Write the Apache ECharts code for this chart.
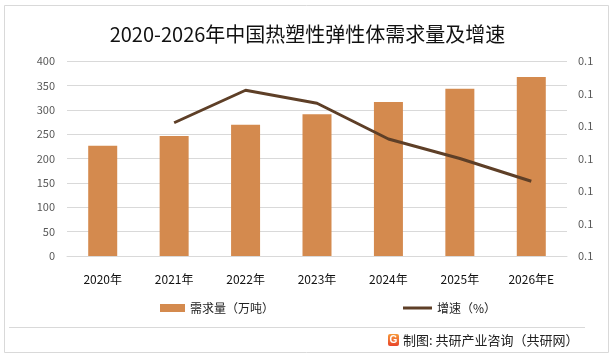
<!DOCTYPE html>
<html>
<head>
<meta charset="utf-8">
<script src="https://cdn.jsdelivr.net/npm/echarts@6/dist/echarts.min.js"></script>
<style>html,body{margin:0;padding:0;background:#fff}#c{width:615px;height:358px}</style>
</head>
<body>
<div id="c"></div>
<script>
var categories = ['2020年','2021年','2022年','2023年','2024年','2025年','2026年E'];
var demand = [226, 246, 269, 291, 316, 343, 367];
var growth = [null, 0.121, 0.131, 0.127, 0.116, 0.110, 0.103];
var titleText = '2020-2026年中国热塑性弹性体需求量及增速';
var seriesNames = ['需求量（万吨）', '增速（%）'];
var sourceText = '制图: 共研产业咨询（共研网）';

var font = '"Noto Sans CJK SC", "Noto Sans", sans-serif';
var chart = echarts.init(document.getElementById('c'), null, {renderer: 'canvas'});
chart.setOption({
  animation: false,
  backgroundColor: '#fff',
  textStyle: {fontFamily: font},
  title: {
    text: titleText, left: 'center', top: 19,
    textStyle: {fontSize: 20, fontWeight: 'normal', color: '#111', fontFamily: font}
  },
  grid: {left: 67, right: 48, top: 61, bottom: 102, containLabel: false},
  legend: [
    {data: [seriesNames[0]], left: 155, top: 297, itemWidth: 25, itemHeight: 8, icon: 'rect',
     textStyle: {fontSize: 12, color: '#222', fontFamily: font}},
    {data: [seriesNames[1]], left: 398, top: 297, itemWidth: 29, itemHeight: 3, icon: 'rect',
     textStyle: {fontSize: 12, color: '#222', fontFamily: font}}
  ],
  xAxis: {
    type: 'category', data: categories,
    axisLine: {show: true, lineStyle: {color: '#d9d9d9'}},
    axisTick: {show: false},
    axisLabel: {fontSize: 12, color: '#111', margin: 17, fontFamily: font}
  },
  yAxis: [
    {type: 'value', min: 0, max: 400, interval: 50,
     axisLine: {show: false}, axisTick: {show: false},
     splitLine: {lineStyle: {color: '#d9d9d9'}},
     axisLabel: {fontSize: 11, color: '#595959', margin: 12, fontFamily: font}},
    {type: 'value', min: 0.08, max: 0.14, interval: 0.01,
     axisLine: {show: false}, axisTick: {show: false}, splitLine: {show: false},
     axisLabel: {fontSize: 11, color: '#595959', margin: 11, fontFamily: font,
       formatter: function (v) { return v.toFixed(1); }}}
  ],
  series: [
    {name: seriesNames[0], type: 'bar', data: demand, barWidth: 29,
     itemStyle: {color: '#D48A4E'}},
    {name: seriesNames[1], type: 'line', yAxisIndex: 1, data: growth,
     symbol: 'none', lineStyle: {color: '#5E3F27', width: 3}, itemStyle: {color: '#5E3F27'}}
  ],
  graphic: [
    {type: 'rect', shape: {x: 4.5, y: 5.5, width: 604, height: 347},
     style: {fill: 'none', stroke: '#d9d9d9', lineWidth: 1}, silent: true},
    {type: 'line', shape: {x1: 9, y1: 327.5, x2: 585, y2: 327.5},
     style: {stroke: '#d9d9d9', lineWidth: 1}},
    {type: 'rect', shape: {x: 388, y: 334, width: 11, height: 12, r: 2},
     style: {fill: new echarts.graphic.LinearGradient(0, 0, 0, 1, [
       {offset: 0, color: '#F79A3A'}, {offset: 1, color: '#E8442A'}])}},
    {type: 'text', x: 393.5, y: 340, style: {text: 'G', fill: '#fff', fontSize: 10, fontWeight: 'bold',
     fontFamily: 'Arial', align: 'center', verticalAlign: 'middle'}},
    {type: 'text', x: 403, y: 340, style: {text: sourceText, fill: '#222', fontSize: 13,
     fontFamily: font, verticalAlign: 'middle'}}
  ]
});
</script>
</body>
</html>
